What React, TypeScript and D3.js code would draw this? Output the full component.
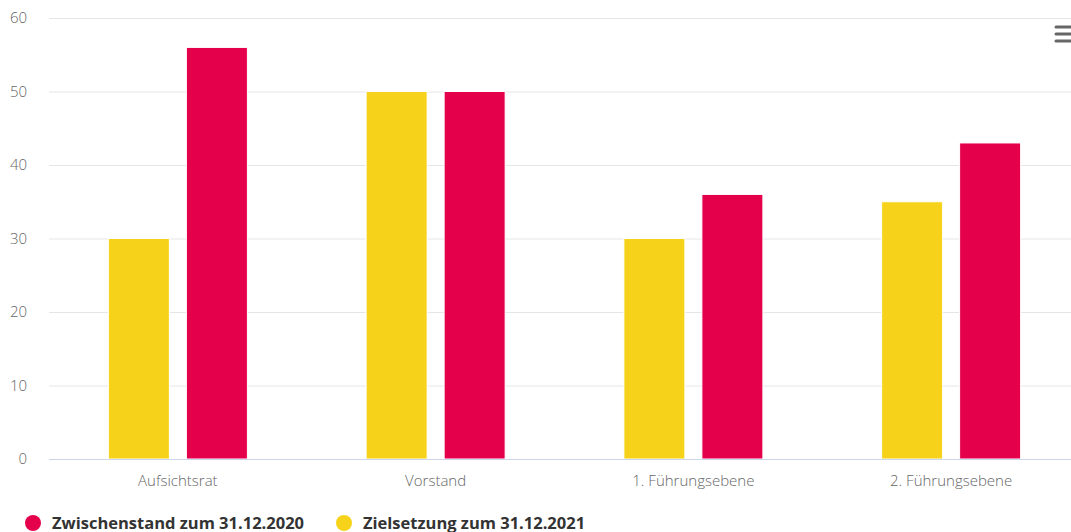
import React from 'react'
import * as d3 from 'd3'

// Kategorien und Werte
const categories = ['Aufsichtsrat', 'Vorstand', '1. Führungsebene', '2. Führungsebene']
const zielsetzung2021 = [30, 50, 30, 35]
const zwischenstand2020 = [56, 50, 36, 43]
const yTicks = [0, 10, 20, 30, 40, 50, 60]

const seriesKeys = ['ziel', 'zwischen']
const seriesColors: Record<string, string> = { ziel: '#f6d31a', zwischen: '#e4004b' }
const legendItems = [
  { key: 'zwischen', label: 'Zwischenstand zum 31.12.2020' },
  { key: 'ziel', label: 'Zielsetzung zum 31.12.2021' },
]

const W = 1071
const H = 532
const FONT = '"Open Sans", Lato, sans-serif'

export default function App() {
  const plotLeft = 49
  const plotRight = 1080
  const plotTop = 18
  const plotBottom = 459

  const x = d3.scaleBand<string>().domain(categories).range([plotLeft, plotRight]).padding(0)
  const inner = d3
    .scaleBand<string>()
    .domain(seriesKeys)
    .range([0, x.bandwidth()])
    .paddingInner(0.218)
    .paddingOuter(0.761)
  const y = d3.scaleLinear().domain([0, 60]).range([plotBottom, plotTop])

  const rows = categories.map((c, i) => ({
    cat: c,
    ziel: zielsetzung2021[i],
    zwischen: zwischenstand2020[i],
  }))

  return (
    <svg
      width={W}
      height={H}
      style={{ position: 'absolute', left: 0, top: 0, fontFamily: FONT }}
    >
      <rect width={W} height={H} fill="#fff" />
      {/* Gitterlinien */}
      {yTicks.map((t) => (
        <g key={t}>
          {t !== 0 && (
            <line
              x1={plotLeft}
              x2={W}
              y1={y(t) + 0.5}
              y2={y(t) + 0.5}
              stroke="#e6e6e6"
              strokeWidth={1}
            />
          )}
          <text
            x={27}
            y={y(t)}
            dy="0.35em"
            textAnchor="end"
            fontSize={15}
            fontWeight={300}
            fill="#666"
          >
            {t}
          </text>
        </g>
      ))}

      {/* Balken */}
      {rows.map((r) => (
        <g key={r.cat} transform={`translate(${x(r.cat)},0)`}>
          {seriesKeys.map((k) => {
            const v = (r as any)[k] as number
            return (
              <rect
                key={k}
                x={inner(k)}
                y={y(v)}
                width={inner.bandwidth()}
                height={y(0) - y(v)}
                fill={seriesColors[k]}
                stroke="#fff"
                strokeWidth={1}
              />
            )
          })}
          <text
            x={x.bandwidth() / 2}
            y={486}
            textAnchor="middle"
            fontSize={15}
            fontWeight={300}
            fill="#666"
          >
            {r.cat}
          </text>
        </g>
      ))}

      {/* x-Achse */}
      <line x1={plotLeft} x2={W} y1={plotBottom + 0.5} y2={plotBottom + 0.5} stroke="#ccd6eb" strokeWidth={1} />

      {/* Menü-Symbol */}
      {[27, 34, 41].map((yy) => (
        <line
          key={yy}
          x1={1056}
          x2={1073}
          y1={yy}
          y2={yy}
          stroke="#666"
          strokeWidth={3}
          strokeLinecap="round"
        />
      ))}

      {/* Legende */}
      {legendItems.map((it, i) => {
        const lx = i === 0 ? 33 : 344
        return (
          <g key={it.key}>
            <circle cx={lx} cy={523} r={8} fill={seriesColors[it.key]} />
            <text x={lx + 19} y={529} fontSize={16.5} fontWeight="bold" fill="#333">
              {it.label}
            </text>
          </g>
        )
      })}
    </svg>
  )
}
